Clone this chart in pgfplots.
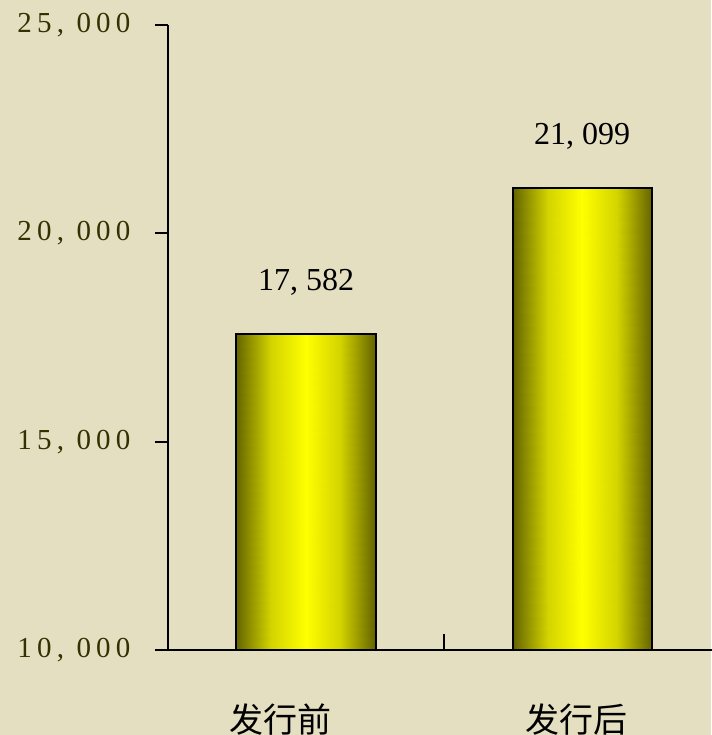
\documentclass[border=0pt]{standalone}
\usepackage{fontspec}
\usepackage{pgfplots}
\pgfplotsset{compat=1.18}
\setmainfont{Liberation Serif}
\newfontfamily\cjk{Noto Sans CJK SC}
\newfontfamily\spaced[LetterSpace=18]{Liberation Serif}
\definecolor{bgbeige}{RGB}{229,223,194}
\definecolor{tickolive}{RGB}{50,50,0}

\begin{document}
\begin{tikzpicture}[x=1pt,y=1pt]
\fill[bgbeige] (-168,-85) rectangle (543,650);
\useasboundingbox (-168,-85) rectangle (543,650);
\begin{axis}[
    at={(0,0)}, anchor=south west,
    scale only axis,
    width=552pt, height=625pt,
    xmin=-0.5, xmax=1.5,
    ymin=10000, ymax=25000,
    scaled y ticks=false,
    axis x line*=bottom, axis y line*=left,
    axis line style={line width=1.8pt,-},
    axis on top,
    tick align=outside,
    major tick length=13pt,
    ytick={10000,15000,20000,25000},
    yticklabels={{10, 000},{15, 000},{20, 000},{25, 000}},
    yticklabel style={font=\spaced\fontsize{29}{29}\selectfont, text=tickolive, xshift=-21pt},
    ytick style={line width=1.8pt, black},
    xtick={0,1},
    xticklabels={{\cjk 发行前\kern50pt},{\cjk 发行后\kern12pt}},
    xticklabel style={font=\fontsize{34}{34}\selectfont, text=black, yshift=-37pt},
    xtick style={draw=none},
    extra x ticks={0.5},
    extra x tick labels={},
    extra x tick style={tick align=inside, major tick length=16pt, xtick style={draw=black, line width=1.8pt}},
    colormap={barshade}{rgb255=(100,100,0) rgb255=(255,255,0)},
    point meta min=0, point meta max=1,
]
% shaded bar faces: edge colour 0, centre colour 1
\addplot[surf, shader=interp, mesh/rows=2, point meta=explicit] coordinates {
    (-0.2518,10000) [0] (-0.125,10000) [0.72] (0,10000) [1] (0.125,10000) [0.72] (0.2518,10000) [0]
    (-0.2518,17582) [0] (-0.125,17582) [0.72] (0,17582) [1] (0.125,17582) [0.72] (0.2518,17582) [0]
};
\addplot[surf, shader=interp, mesh/rows=2, point meta=explicit] coordinates {
    (0.7482,10000) [0] (0.875,10000) [0.72] (1,10000) [1] (1.125,10000) [0.72] (1.2518,10000) [0]
    (0.7482,21099) [0] (0.875,21099) [0.72] (1,21099) [1] (1.125,21099) [0.72] (1.2518,21099) [0]
};
% bar outlines and values
\addplot[ybar, bar width=139pt, draw=black, line width=2pt, fill=none,
    nodes near coords, point meta=explicit symbolic,
    nodes near coords style={font=\fontsize{32}{32}\selectfont, text=black, yshift=34pt}]
coordinates {(0,17582) [17, 582] (1,21099) [21, 099]};
\end{axis}
\end{tikzpicture}
\end{document}
